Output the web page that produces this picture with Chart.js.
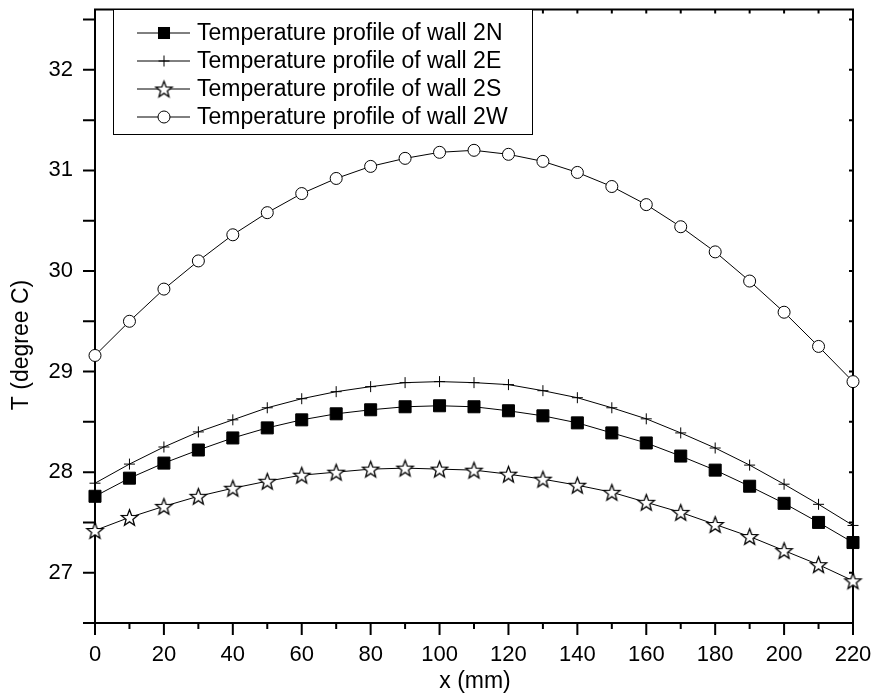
<!DOCTYPE html>
<html lang="en">

<head>
    <meta charset="UTF-8">
    <title>Wall temperature profiles</title>
    <script src="https://cdn.jsdelivr.net/npm/chart.js"></script>
    <style>
        body {
            margin: 0;
            background: #fff;
        }
    </style>
</head>

<body>
    <canvas id="tempChart" width="874" height="699"></canvas>
    <script>
        // x positions along the wall (mm)
        const xValues = [0, 10, 20, 30, 40, 50, 60, 70, 80, 90, 100, 110, 120, 130, 140, 150, 160, 170, 180, 190, 200, 210, 220];
        const xTicks = [0, 20, 40, 60, 80, 100, 120, 140, 160, 180, 200, 220];
        const yTicks = [27, 28, 29, 30, 31, 32];

        const wall2N = [27.76, 27.94, 28.09, 28.22, 28.34, 28.44, 28.52, 28.58, 28.62, 28.65, 28.66, 28.65, 28.61, 28.56, 28.49, 28.39, 28.29, 28.16, 28.02, 27.86, 27.69, 27.50, 27.30];
        const wall2E = [27.89, 28.08, 28.25, 28.40, 28.52, 28.64, 28.73, 28.80, 28.85, 28.89, 28.90, 28.89, 28.87, 28.81, 28.74, 28.64, 28.53, 28.39, 28.24, 28.07, 27.88, 27.68, 27.47];
        const wall2S = [27.42, 27.55, 27.66, 27.76, 27.84, 27.91, 27.97, 28.00, 28.03, 28.04, 28.03, 28.02, 27.98, 27.93, 27.87, 27.80, 27.70, 27.60, 27.48, 27.36, 27.22, 27.08, 26.92];
        const wall2W = [29.16, 29.50, 29.82, 30.10, 30.36, 30.58, 30.77, 30.92, 31.04, 31.12, 31.18, 31.20, 31.16, 31.09, 30.98, 30.84, 30.66, 30.44, 30.19, 29.90, 29.59, 29.25, 28.90];

        const seriesLabels = [
            'Temperature profile of wall 2N',
            'Temperature profile of wall 2E',
            'Temperature profile of wall 2S',
            'Temperature profile of wall 2W'
        ];

        const FONT = "'Liberation Sans', Arial, sans-serif";

        // open five point star, chart.js has no such point style
        function makeStar(outer) {
            const c = document.createElement('canvas');
            const s = Math.ceil(outer * 2 + 4);
            c.width = s;
            c.height = s;
            const g = c.getContext('2d');
            starPath(g, s / 2, s / 2 + 0.8, outer);
            g.fillStyle = '#fff';
            g.fill();
            g.strokeStyle = '#000';
            g.lineWidth = 1.3;
            g.stroke();
            return c;
        }

        function starPath(g, cx, cy, outer) {
            const inner = outer * 0.42;
            g.beginPath();
            for (let i = 0; i < 10; i++) {
                const r = i % 2 === 0 ? outer : inner;
                const a = -Math.PI / 2 + i * Math.PI / 5;
                const px = cx + r * Math.cos(a);
                const py = cy + r * Math.sin(a);
                if (i === 0) g.moveTo(px, py); else g.lineTo(px, py);
            }
            g.closePath();
        }

        const starImg = makeStar(8.5);

        function toPoints(ys) {
            return xValues.map((x, i) => ({ x: x, y: ys[i] }));
        }

        // frame, ticks on all four sides, axis titles
        const framePlugin = {
            id: 'frame',
            beforeDatasetsDraw(chart) {
                const ctx = chart.ctx;
                const a = chart.chartArea;
                const xs = chart.scales.x;
                const ys = chart.scales.y;
                ctx.save();
                ctx.strokeStyle = '#000';
                ctx.lineWidth = 2;
                ctx.strokeRect(a.left, a.top, a.right - a.left, a.bottom - a.top);

                ctx.beginPath();
                for (let v = 0; v <= 220; v += 10) {
                    const px = xs.getPixelForValue(v);
                    const major = v % 20 === 0;
                    ctx.moveTo(px, a.bottom);
                    ctx.lineTo(px, a.bottom + (major ? 12 : 6));
                    ctx.moveTo(px, a.top);
                    ctx.lineTo(px, a.top + 4);
                }
                for (let v = 26.5; v <= 32.6; v += 0.5) {
                    const py = ys.getPixelForValue(v);
                    ctx.moveTo(a.left, py);
                    ctx.lineTo(a.left - 12, py);
                    ctx.moveTo(a.right, py);
                    ctx.lineTo(a.right - 4, py);
                }
                ctx.stroke();

                ctx.fillStyle = '#000';
                ctx.font = '23px ' + FONT;
                ctx.textAlign = 'center';
                ctx.textBaseline = 'middle';
                ctx.fillText('x (mm)', 475, 682);
                ctx.translate(22, 345);
                ctx.rotate(-Math.PI / 2);
                ctx.fillText('T (degree C)', 0, 0);
                ctx.restore();
            }
        };

        // boxed legend inside the plot, line through each marker
        const boxLegend = {
            id: 'boxLegend',
            afterDraw(chart) {
                const ctx = chart.ctx;
                const left = 113, top = 9, width = 419, height = 125;
                ctx.save();
                ctx.fillStyle = '#fff';
                ctx.fillRect(left, top, width, height);
                ctx.strokeStyle = '#000';
                ctx.lineWidth = 1;
                ctx.strokeRect(left + 0.5, top + 0.5, width, height);
                chart.data.datasets.forEach((ds, i) => {
                    const y = 33 + i * 28;
                    ctx.strokeStyle = '#000';
                    ctx.lineWidth = 1;
                    ctx.beginPath();
                    ctx.moveTo(137, y);
                    ctx.lineTo(190, y);
                    ctx.stroke();
                    drawMarker(ctx, ds.pointStyle, 164, y, ds.pointRadius);
                    ctx.fillStyle = '#000';
                    ctx.font = '23px ' + FONT;
                    ctx.textAlign = 'left';
                    ctx.textBaseline = 'middle';
                    ctx.fillText(ds.label, 197, y + 1);
                });
                ctx.restore();
            }
        };

        function drawMarker(ctx, style, x, y, r) {
            ctx.lineWidth = 1;
            ctx.strokeStyle = '#000';
            if (style === 'rect') {
                const h = r * Math.SQRT1_2;
                ctx.fillStyle = '#000';
                ctx.fillRect(x - h, y - h, 2 * h, 2 * h);
            } else if (style === 'cross') {
                ctx.beginPath();
                ctx.moveTo(x - r, y);
                ctx.lineTo(x + r, y);
                ctx.moveTo(x, y - r);
                ctx.lineTo(x, y + r);
                ctx.stroke();
            } else if (style === 'circle') {
                ctx.beginPath();
                ctx.arc(x, y, r, 0, Math.PI * 2);
                ctx.fillStyle = '#fff';
                ctx.fill();
                ctx.stroke();
            } else {
                ctx.drawImage(style, x - style.width / 2, y - style.height / 2);
            }
        }

        function lineSet(label, ys, style, radius, fill) {
            return {
                label: label,
                data: toPoints(ys),
                borderColor: '#000',
                borderWidth: 1,
                pointStyle: style,
                pointRadius: radius,
                pointHoverRadius: radius,
                pointBackgroundColor: fill,
                pointBorderColor: '#000',
                pointBorderWidth: 1,
                tension: 0,
                clip: false
            };
        }

        // keep the plot box where the reference has it
        function noPad(scale) {
            scale.paddingLeft = 0;
            scale.paddingRight = 0;
            scale.paddingTop = 0;
            scale.paddingBottom = 0;
        }

        const ctx = document.getElementById('tempChart').getContext('2d');

        const tempChart = new Chart(ctx, {
            type: 'line',
            data: {
                datasets: [
                    lineSet(seriesLabels[0], wall2N, 'rect', 8.5, '#000'),
                    lineSet(seriesLabels[1], wall2E, 'cross', 5.5, '#000'),
                    lineSet(seriesLabels[2], wall2S, starImg, 8.5, '#fff'),
                    lineSet(seriesLabels[3], wall2W, 'circle', 6, '#fff')
                ]
            },
            options: {
                responsive: false,
                animation: false,
                layout: {
                    padding: { top: 6, right: 21, left: 0, bottom: 0 }
                },
                plugins: {
                    legend: { display: false },
                    tooltip: { enabled: false }
                },
                scales: {
                    x: {
                        type: 'linear',
                        min: 0,
                        max: 220,
                        afterBuildTicks: scale => { scale.ticks = xTicks.map(v => ({ value: v })); },
                        afterFit: scale => { scale.height = 76; noPad(scale); },
                        grid: { display: false, drawTicks: false },
                        border: { display: false },
                        ticks: {
                            color: '#000',
                            padding: 19,
                            maxRotation: 0,
                            font: { family: FONT, size: 22 }
                        }
                    },
                    y: {
                        type: 'linear',
                        min: 26.5,
                        max: 32.6,
                        afterBuildTicks: scale => { scale.ticks = yTicks.map(v => ({ value: v })); },
                        afterFit: scale => { scale.width = 95; noPad(scale); },
                        grid: { display: false, drawTicks: false },
                        border: { display: false },
                        ticks: {
                            color: '#000',
                            padding: 22,
                            font: { family: FONT, size: 22 }
                        }
                    }
                }
            },
            plugins: [framePlugin, boxLegend]
        });
    </script>
</body>

</html>
